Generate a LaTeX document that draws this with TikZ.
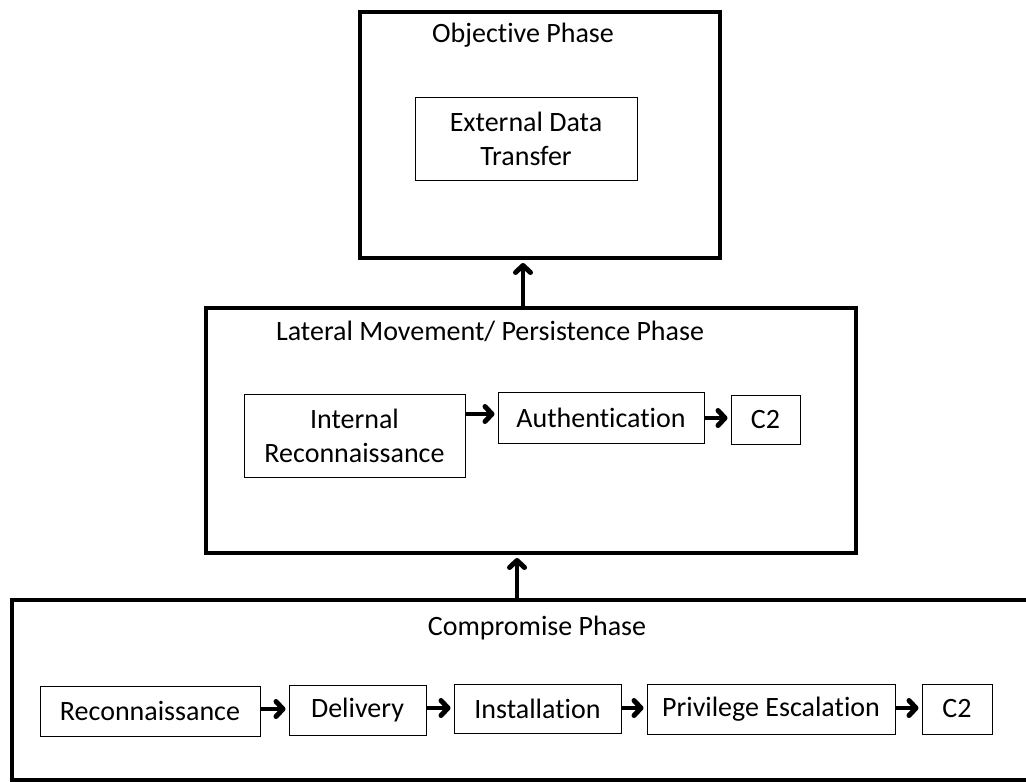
\documentclass[tikz,border=0pt]{standalone}
\usepackage{fontspec}
\setmainfont{Carlito}[Ligatures=NoCommon]
\usetikzlibrary{arrows.meta}
\begin{document}
\begin{tikzpicture}[x=1pt,y=-1pt,
  phasebox/.style={draw, line width=4pt, inner sep=0pt},
  stepbox/.style={draw, line width=1pt, inner sep=0pt, align=center, font=\fontsize{28}{34}\selectfont},
  phasetitle/.style={font=\fontsize{28}{34}\selectfont, inner sep=0pt},
  arr/.style={line width=3.5pt, shorten >=3pt,
    -{Straight Barb[length=7pt,width=15pt,line width=5pt,round]}}]
\useasboundingbox (0,0) rectangle (1026,782);
\clip (0,0) rectangle (1026,782);

% Objective phase
\node[phasebox, minimum width=360, minimum height=246] (obj) at (540,135) {};
\node[phasetitle] (objt) at (523,35) {Objective Phase};
\node[stepbox, minimum width=222, minimum height=83] (edt) at (526,138.5) {External Data\\Transfer};

% Lateral movement / persistence phase
\node[phasebox, minimum width=650, minimum height=245] (lat) at (531,430.5) {};
\node[phasetitle] (latt) at (490,331) {Lateral Movement/ Persistence Phase};
\node[stepbox, minimum width=221, minimum height=83] (ir) at (354.5,435.5) {Internal\\Reconnaissance};
\node[stepbox, minimum width=206, minimum height=51] (auth) at (601,417.5) {Authentication};
\node[stepbox, minimum width=69, minimum height=49] (c2a) at (765.5,419.5) {C2};

% Compromise phase
\node[phasebox, minimum width=1040, minimum height=180] (comp) at (532,690) {};
\node[phasetitle] (compt) at (537,628) {Compromise Phase};
\node[stepbox, minimum width=220, minimum height=50] (rec) at (150,711) {Reconnaissance};
\node[stepbox, minimum width=137, minimum height=50] (del) at (357.5,710) {Delivery};
\node[stepbox, minimum width=167, minimum height=49] (ins) at (537.5,708.5) {Installation};
\node[stepbox, minimum width=248, minimum height=50] (pe) at (771,709) {Privilege Escalation};
\node[stepbox, minimum width=70, minimum height=50] (c2b) at (957,709) {C2};

% Flow between phases
\coordinate (up2) at (517,0);
\draw[arr] (lat.north -| objt) -- (obj.south -| objt);
\draw[arr] (comp.north -| up2) -- (lat.south -| up2);

% Flow inside the lateral phase
\draw[arr] (ir.east |- 0,414) -- (auth.west |- 0,414);
\draw[arr] (auth.east |- 0,418) -- (c2a.west |- 0,418);

% Flow inside the compromise phase
\draw[arr] (rec.east |- 0,709) -- (del.west |- 0,709);
\draw[arr] (del.east |- 0,708) -- (ins.west |- 0,708);
\draw[arr] (ins.east |- 0,708) -- (pe.west |- 0,708);
\draw[arr] (pe.east |- 0,708) -- (c2b.west |- 0,708);
\end{tikzpicture}
\end{document}
